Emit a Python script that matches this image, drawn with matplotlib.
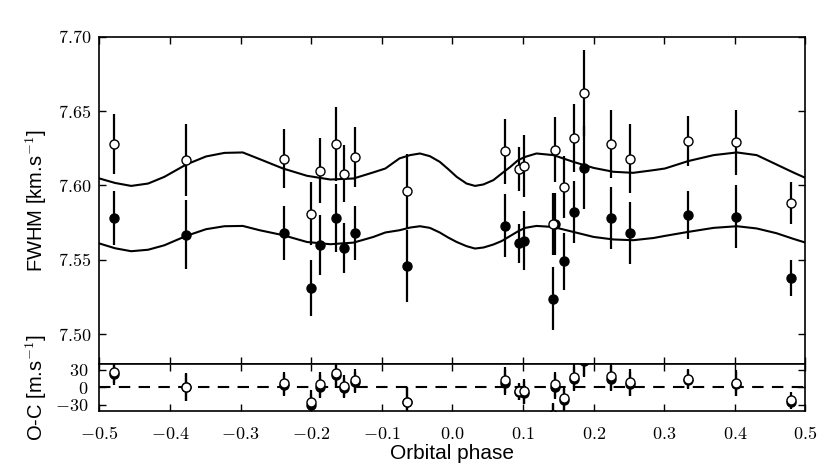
import matplotlib
matplotlib.use("Agg")
import matplotlib.pyplot as plt
from matplotlib.ticker import FuncFormatter, MultipleLocator

plt.rcParams["font.family"] = ["Liberation Sans", "DejaVu Sans"]
plt.rcParams["mathtext.fontset"] = "cm"

# orbital phase of each observation
phase = [-0.479, -0.377, -0.239, -0.201, -0.187, -0.165, -0.153, -0.138, -0.065,
         0.074, 0.094, 0.101, 0.142, 0.145, 0.158, 0.172, 0.186, 0.224, 0.251,
         0.334, 0.401, 0.479]

# FWHM [km/s], open symbols (upper set) and filled symbols (lower set)
fwhm_open = [7.628, 7.617, 7.618, 7.581, 7.610, 7.628, 7.608, 7.619, 7.596,
             7.623, 7.611, 7.613, 7.574, 7.624, 7.599, 7.632, 7.662, 7.628, 7.618,
             7.630, 7.629, 7.588]
err_open = [0.020, 0.024, 0.020, 0.021, 0.022, 0.025, 0.019, 0.020, 0.025,
            0.022, 0.015, 0.021, 0.021, 0.022, 0.021, 0.023, 0.029, 0.023, 0.023,
            0.017, 0.022, 0.014]
fwhm_fill = [7.578, 7.567, 7.568, 7.531, 7.560, 7.578, 7.558, 7.568, 7.546,
             7.573, 7.561, 7.563, 7.524, 7.574, 7.549, 7.582, 7.612, 7.578, 7.568,
             7.580, 7.579, 7.538]
err_fill = [0.018, 0.023, 0.018, 0.019, 0.020, 0.023, 0.017, 0.018, 0.024,
            0.021, 0.013, 0.020, 0.021, 0.021, 0.019, 0.021, 0.028, 0.021, 0.021,
            0.016, 0.021, 0.012]

# O-C residuals [m/s]
oc_open = [27, 1, 7, -25, 5, 24, 2, 12, -25, 12, -7, -7, -47, 5, -19, 18, 48,
           19, 9, 15, 8, -22]
oc_fill = [22, 0, 4, -30, 1, 21, -1, 9, -25, 8, -8, -9, -49, 1, -22, 14, 45,
           15, 6, 13, 6, -25]

# model curves
model_phase = [-0.500, -0.478, -0.455, -0.431, -0.408, -0.377, -0.349, -0.323,
               -0.297, -0.273, -0.240, -0.206, -0.173, -0.140, -0.112, -0.095,
               -0.075, -0.060, -0.046, -0.032, -0.018, -0.006, 0.006, 0.020,
               0.032, 0.044, 0.058, 0.070, 0.082, 0.093, 0.103, 0.119,
               0.143, 0.171, 0.200, 0.228, 0.256, 0.285, 0.301, 0.334, 0.370,
               0.403, 0.431, 0.459, 0.483, 0.500]
model_open = [7.6047, 7.6017, 7.5997, 7.6013, 7.6058, 7.6141, 7.6195, 7.6219,
              7.6222, 7.6177, 7.6114, 7.6065, 7.6040, 7.6047, 7.6088, 7.6114,
              7.6182, 7.6204, 7.6215, 7.6197, 7.6159, 7.6110, 7.6058, 7.6013,
              7.5997, 7.6007, 7.6036, 7.6081, 7.6125, 7.6170, 7.6192, 7.6215,
              7.6204, 7.6159, 7.6118, 7.6092, 7.6085, 7.6103, 7.6114,
              7.6164, 7.6204, 7.6222, 7.6204, 7.6141, 7.6087, 7.6051]
model_fill = [7.5610, 7.5578, 7.5558, 7.5568, 7.5598, 7.5661, 7.5706, 7.5726,
              7.5728, 7.5699, 7.5666, 7.5620, 7.5605, 7.5616, 7.5654, 7.5684,
              7.5699, 7.5717, 7.5726, 7.5715, 7.5684, 7.5650, 7.5620, 7.5592,
              7.5576, 7.5583, 7.5603, 7.5627, 7.5661, 7.5692, 7.5715, 7.5728,
              7.5721, 7.5688, 7.5654, 7.5637, 7.5632, 7.5647, 7.5661,
              7.5688, 7.5715, 7.5726, 7.5711, 7.5679, 7.5641, 7.5616]

fig = plt.figure(figsize=(8.3, 4.67), dpi=100)
ax = fig.add_axes([0.1198, 0.2206, 0.8506, 0.7008])
axr = fig.add_axes([0.1198, 0.1206, 0.8506, 0.1000])

mk = dict(fmt="o", ms=6.5, elinewidth=1.6, capsize=0, ecolor="k")

# main panel
ax.plot(model_phase, model_open, color="k", lw=1.5, zorder=1)
ax.plot(model_phase, model_fill, color="k", lw=1.5, zorder=1)
ax.errorbar(phase, fwhm_fill, yerr=err_fill, mfc="k", mec="k", zorder=2, **mk)
ax.errorbar(phase, fwhm_open, yerr=err_open, mfc="w", mec="k", mew=1.0, zorder=3, **mk)

ax.set_xlim(-0.5, 0.5)
ax.set_ylim(7.48, 7.70)
ax.xaxis.set_major_locator(MultipleLocator(0.1))
ax.yaxis.set_major_locator(MultipleLocator(0.05))
ax.yaxis.set_major_formatter(FuncFormatter(lambda v, p: "$%.2f$" % v))
ax.tick_params(direction="in", top=True, right=True, labelbottom=False,
               length=5, width=1, labelsize=13, pad=6)
ax.set_ylabel("FWHM [km.s$^{-1}$]", fontsize=14.5)
ax.yaxis.set_label_coords(-0.072, 0.5)

# residual panel
axr.axhline(0, color="k", lw=1.5, ls=(0, (5.5, 4)), zorder=1)
axr.errorbar(phase, oc_fill, yerr=[e * 1000 for e in err_fill], mfc="k", mec="k", zorder=2, **mk)
axr.errorbar(phase, oc_open, yerr=[e * 1000 for e in err_open], mfc="w", mec="k", mew=1.0, zorder=3, **mk)

axr.set_xlim(-0.5, 0.5)
axr.set_ylim(-40, 40)
axr.xaxis.set_major_locator(MultipleLocator(0.1))
axr.set_yticks([-30, 0, 30])
axr.xaxis.set_major_formatter(FuncFormatter(lambda v, p: "$%.1f$" % v))
axr.yaxis.set_major_formatter(FuncFormatter(lambda v, p: "$%d$" % v))
axr.tick_params(direction="in", top=True, right=True, length=5, width=1,
                labelsize=13)
axr.tick_params(axis="x", pad=11)
axr.tick_params(axis="y", pad=8)
axr.set_ylabel("O-C [m.s$^{-1}$]", fontsize=14.5)
axr.yaxis.set_label_coords(-0.072, 0.5)
axr.set_xlabel("Orbital phase", fontsize=15, labelpad=0.5)

for a in (ax, axr):
    for s in a.spines.values():
        s.set_linewidth(1.2)

fig.savefig("out.png", dpi=100)
